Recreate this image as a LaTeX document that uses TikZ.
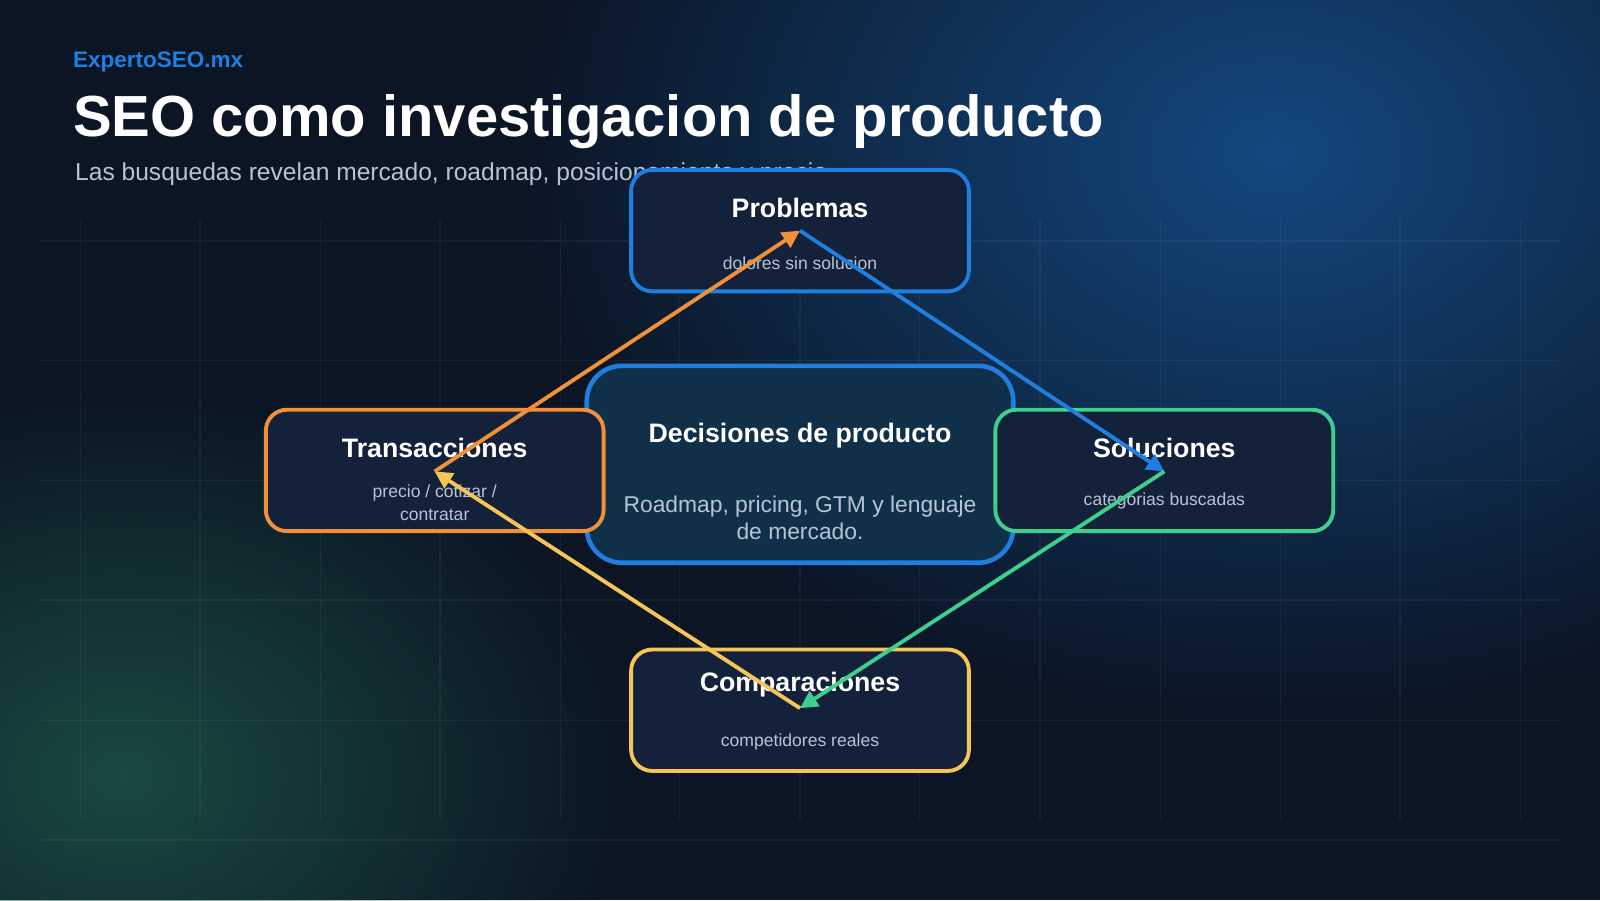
\documentclass[tikz,border=0pt]{standalone}
\usepackage{fontspec}
\setmainfont{Liberation Sans}
\usetikzlibrary{arrows.meta,fadings}
\tikzfading[name=glowfade,inner color=transparent!0,outer color=transparent!100]
\definecolor{bg}{HTML}{0B1524}
\definecolor{cblue}{HTML}{1E7FE0}
\definecolor{corange}{HTML}{F0913A}
\definecolor{cgreen}{HTML}{3ECF8E}
\definecolor{cyellow}{HTML}{F5C55A}
\definecolor{boxfill}{HTML}{13213A}
\definecolor{centerfill}{HTML}{10304A}
\definecolor{subtxt}{HTML}{B8C4D4}
\begin{document}
\begin{tikzpicture}[x=0.010204cm,y=-0.010204cm,
  box/.style={draw,line width=1.1pt,rounded corners=6pt,fill=boxfill,minimum width=331*0.010204cm,minimum height=119*0.010204cm,inner sep=0pt},
  ttl/.style={text=white,font=\bfseries\fontsize{7.6}{9}\selectfont},
  sml/.style={text=subtxt,font=\fontsize{5}{6.5}\selectfont,align=center},
  conn/.style={line width=1.1pt,-{Triangle[length=5pt,width=5pt]}}]
\useasboundingbox (0,0) rectangle (1568,882);
\fill[bg] (0,0) rectangle (1568,882);
\begin{scope}
\clip (0,0) rectangle (1568,882);
\fill[color=cblue!60!bg,path fading=glowfade,opacity=0.8] (1250,150) ellipse (750 and 560);
\fill[color=cgreen!35!bg,path fading=glowfade,opacity=0.8] (120,760) ellipse (500 and 380);
\end{scope}
\foreach \x in {79,196,314,431,549,666,784,901,1019,1137,1255,1372,1490}
  \draw[white,opacity=0.05,line width=0.4pt] (\x,216) -- (\x,803);
\foreach \y in {236,353,471,588,706,823}
  \draw[white,opacity=0.05,line width=0.4pt] (40,\y) -- (1528,\y);
\node[anchor=west,inner sep=0pt,text=cblue,font=\bfseries\fontsize{6.4}{8}\selectfont] (brand) at (71,61) {ExpertoSEO.mx};
\node[anchor=west,inner sep=0pt,text=white,font=\bfseries\fontsize{16.5}{19}\selectfont] (title) at (71,119) {SEO como investigacion de producto};
\node[anchor=west,inner sep=0pt,text=subtxt,font=\fontsize{7}{8.5}\selectfont] (sub) at (73,171) {Las busquedas revelan mercado, roadmap, posicionamiento y precio};
% center
\node[draw=cblue,line width=1.3pt,rounded corners=10pt,fill=centerfill,minimum width=418*0.010204cm,minimum height=193*0.010204cm] (center) at (784,455) {};
\node[ttl] (ct) at (784,427) {Decisiones de producto};
\node[text=subtxt,font=\fontsize{6.5}{7.7}\selectfont,align=center] (cb) at (784,507) {Roadmap, pricing, GTM y lenguaje\\de mercado.};
% boxes
\node[box,draw=cblue] (prob) at (784,226) {};
\node[ttl] at (784,204) {Problemas};
\node[sml] at (784,258) {dolores sin solucion};
\node[box,draw=corange] (trans) at (426,461) {};
\node[ttl] at (426,439) {Transacciones};
\node[sml] at (426,493) {precio / cotizar /\\contratar};
\node[box,draw=cgreen] (sol) at (1141,461) {};
\node[ttl] at (1141,439) {Soluciones};
\node[sml] at (1141,491) {categorias buscadas};
\node[box,draw=cyellow] (comp) at (784,696) {};
\node[ttl] at (784,671) {Comparaciones};
\node[sml] at (784,727) {competidores reales};
% connectors
\coordinate (pA) at (784,226);
\coordinate (tA) at (426,462);
\coordinate (sA) at (1141,462);
\coordinate (cA) at (784,694);
\draw[conn,corange] (tA) -- (pA);
\draw[conn,cblue] (pA) -- (sA);
\draw[conn,cgreen] (sA) -- (cA);
\draw[conn,cyellow] (cA) -- (tA);
\end{tikzpicture}
\end{document}
